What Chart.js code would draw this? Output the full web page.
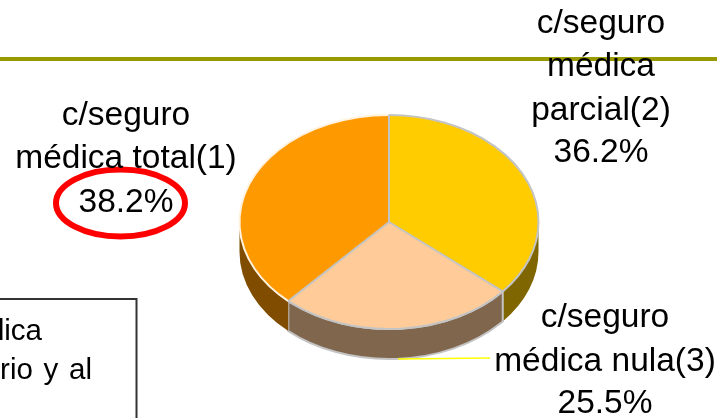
<!DOCTYPE html>
<html>
<head>
<meta charset="utf-8">
<style>
html, body { margin: 0; padding: 0; background: #fff; overflow: hidden; }
#wrap { position: relative; width: 717px; height: 418px; }
</style>
<script src="https://cdn.jsdelivr.net/npm/chart.js@4"></script>
</head>
<body>
<div id="wrap"><canvas id="chart" width="717" height="418"></canvas></div>
<script>
var categories = ['c/seguro médica parcial(2)', 'c/seguro médica nula(3)', 'c/seguro médica total(1)'];
var values = [36.2, 25.5, 38.2];
var topColors = ['#ffcc00', '#ffcc99', '#ff9900'];
var sideColors = ['#806600', '#80664d', '#804d00'];
var rimColors = ['#c4c4c4', '#c4c4c4', '#fff3e0'];
var noteLines = ['médica', 'rio y al'];

var FONT = '33.5px "Liberation Sans", Arial, sans-serif';
var EDGE = '#c4c4c4';
var SQUASH = 107 / 149.5;   // tilt of the pie
var DEPTH = 30;

function pctText(i) {
    return values[i].toFixed(1) + '%';
}

// split "c/seguro médica parcial(2)" the way the slide wraps it
function labelLines(i) {
    var words = categories[i].split(' ');
    if (i === 0) {
        return [words[0], words[1], words[2], pctText(i)];
    }
    return [words[0], words[1] + ' ' + words[2], pctText(i)];
}

var labelPos = [
    { x: 601, y: [24, 67, 111, 153] },
    { x: 605, y: [318, 362, 404] },
    { x: 126, y: [116, 159, 203] }
];

var tiltPie = {
    id: 'tiltPie',
    beforeDraw: function (chart) {
        var ctx = chart.ctx;
        ctx.save();
        // olive rule behind everything
        ctx.fillStyle = '#999900';
        ctx.fillRect(0, 57, 717, 4);
        // note box, mostly outside the crop
        ctx.strokeStyle = '#333';
        ctx.lineWidth = 2;
        ctx.strokeRect(-5, 299, 141.5, 130);
        ctx.fillStyle = '#000';
        ctx.font = '29.5px "Liberation Sans", Arial, sans-serif';
        ctx.textBaseline = 'alphabetic';
        ctx.textAlign = 'right';
        ctx.fillText(noteLines[0], 42, 340);
        ctx.wordSpacing = '2.5px';
        ctx.fillText(noteLines[1], 92, 379);
        ctx.restore();
    },
    beforeDatasetsDraw: function (chart) {
        var ctx = chart.ctx;
        var arcs = chart.getDatasetMeta(0).data;
        ctx.save();
        arcs.forEach(function (arc, i) {
            var rx = arc.outerRadius, ry = rx * SQUASH;
            var a = Math.max(arc.startAngle, 0);
            var b = Math.min(arc.endAngle, Math.PI);
            if (b <= a) {
                return;
            }
            ctx.beginPath();
            ctx.ellipse(arc.x, arc.y, rx, ry, 0, a, b);
            ctx.ellipse(arc.x, arc.y + DEPTH, rx, ry, 0, b, a, true);
            ctx.closePath();
            ctx.fillStyle = sideColors[i];
            ctx.fill();
            // only the front wedge shows a light edge
            if (i === 1) {
                ctx.strokeStyle = EDGE;
                ctx.lineWidth = 2;
                ctx.stroke();
            }
        });
        ctx.restore();
        // squash the library's circle into the tilted ellipse
        var first = arcs[0];
        ctx.save();
        ctx.translate(first.x, first.y);
        ctx.scale(1, SQUASH);
        ctx.translate(-first.x, -first.y);
    },
    afterDatasetsDraw: function (chart) {
        var ctx = chart.ctx;
        var arcs = chart.getDatasetMeta(0).data;
        ctx.restore();
        ctx.save();
        // rims and spokes of the top face
        arcs.forEach(function (arc, i) {
            var rx = arc.outerRadius, ry = rx * SQUASH;
            ctx.strokeStyle = rimColors[i];
            ctx.lineWidth = 2;
            ctx.beginPath();
            ctx.ellipse(arc.x, arc.y, rx, ry, 0, arc.startAngle, arc.endAngle);
            ctx.stroke();
        });
        arcs.forEach(function (arc) {
            var rx = arc.outerRadius, ry = rx * SQUASH;
            ctx.strokeStyle = EDGE;
            ctx.lineWidth = 2;
            ctx.beginPath();
            ctx.moveTo(arc.x, arc.y);
            ctx.lineTo(arc.x + rx * Math.cos(arc.startAngle), arc.y + ry * Math.sin(arc.startAngle));
            ctx.stroke();
        });
        // leader line of the bottom label
        ctx.strokeStyle = '#ffff00';
        ctx.lineWidth = 1.5;
        ctx.beginPath();
        ctx.moveTo(398, 359);
        ctx.lineTo(490, 358);
        ctx.stroke();
        // red ring around the highlighted value
        ctx.strokeStyle = '#ff0000';
        ctx.lineWidth = 6;
        ctx.beginPath();
        ctx.ellipse(120.5, 203, 64.5, 33.5, 0, 0, Math.PI * 2);
        ctx.stroke();
        // labels
        ctx.fillStyle = '#000';
        ctx.font = FONT;
        ctx.textAlign = 'center';
        ctx.textBaseline = 'middle';
        labelPos.forEach(function (p, i) {
            labelLines(i).forEach(function (line, k) {
                ctx.fillText(line, p.x, p.y[k]);
            });
        });
        ctx.restore();
    }
};

new Chart(document.getElementById('chart'), {
    type: 'pie',
    data: {
        labels: categories,
        datasets: [{
            data: values,
            backgroundColor: topColors,
            borderWidth: 0
        }]
    },
    options: {
        responsive: false,
        animation: false,
        rotation: 0,
        layout: { padding: { left: 239.5, right: 178.5, top: 72.5, bottom: 46.5 } },
        plugins: {
            legend: { display: false },
            tooltip: { enabled: false }
        }
    },
    plugins: [tiltPie]
});
</script>
</body>
</html>
